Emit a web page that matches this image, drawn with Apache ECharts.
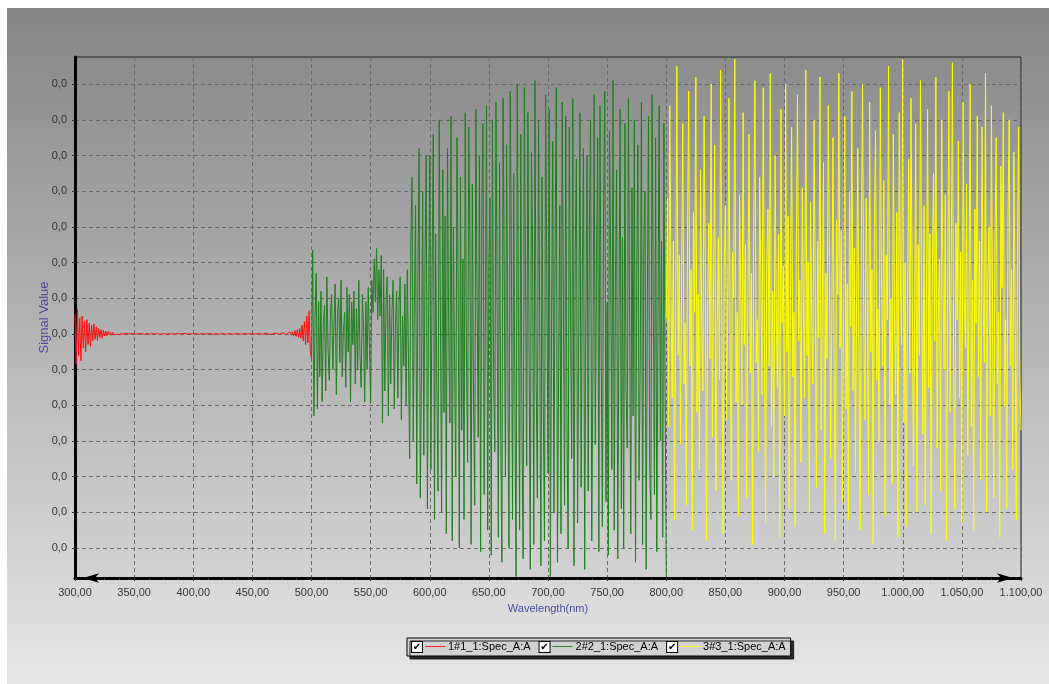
<!DOCTYPE html>
<html><head><meta charset="utf-8">
<script src="https://cdn.jsdelivr.net/npm/echarts@6/dist/echarts.min.js"></script>
<style>html,body{margin:0;padding:0;background:#fff;width:1049px;height:684px;overflow:hidden}
#chart{position:absolute;left:7px;top:8px;width:1042px;height:676px}</style>
</head><body><div id="chart"></div>
<script>
// ---- data (signal in thousandths of the displayed unit) ----
const redStart = 300, redStep = 1;
const greenStart = 500, greenStep = 1;
const yellowStart = 800, yellowStep = 1;
const seriesNames = ['1#1_1:Spec_A:A', '2#2_1:Spec_A:A', '3#3_1:Spec_A:A'];
const seriesColors = ['#ff1010', '#1f7f1f', '#ffff00'];
const yGridValues = [-6, -5, -4, -3, -2, -1, 0, 1, 2, 3, 4, 5, 6, 7];
const SCALE = 0.001;

const redValues = [
 0.55,-0.85,0.7,-0.6,0.45,-0.75,0.5,-0.4,0.35,-0.5,
 0.4,-0.3,0.3,-0.35,0.25,-0.2,0.28,-0.15,0.2,-0.18,
 0.15,-0.1,0.12,-0.12,0.1,-0.06,0.08,-0.05,0.07,-0.03,
 0.05,-0.04,0.04,-0.02,0.03,-0.01,0.02,-0.02,0.01,0,
 0.01,0,-0.01,0.01,0,0,-0.01,0.01,0.01,0,
 -0.01,0,0.01,0,-0.01,0.01,0,0,0.01,-0.01,
 0,0.01,0,-0.01,0,0.01,0,0,-0.01,0.01,
 0,0,0.01,-0.01,0,0.01,0,-0.01,0,0.01,
 0.01,0,-0.01,0,0.01,0,0,0.01,-0.01,0,
 0,0.01,-0.01,0.01,0,0,-0.01,0,0.01,0,
 -0.01,0.01,0,0,0.01,-0.01,0,0.01,0,0,
 0.01,0,-0.01,0.01,0,0,0.01,-0.01,0,0.01,
 0,-0.01,0.01,0,0,0.01,0,-0.01,0.01,0,
 0,0.01,0,-0.01,0.01,0,0,0.01,-0.01,0,
 0.01,-0.01,0,0.01,0,0,-0.01,0.01,0,0,
 0.01,0,-0.01,0,0.01,0.01,-0.01,0,0.01,-0.01,
 0,0.02,-0.01,0.01,0,-0.02,0.02,0,-0.01,0.02,
 -0.02,0.01,0.02,-0.01,0,0.03,-0.02,0.01,0.02,-0.03,
 0.03,-0.02,0.05,-0.04,0.06,-0.05,0.09,-0.07,0.12,-0.1,
 0.15,-0.12,0.25,-0.2,0.35,-0.3,0.5,-0.25,0.65,-0.5,
 -0.7
];
const greenValues = [
 -0.7,2.35,-2.3,0.4,1.7,-2.1,0.9,-1.2,1.2,-1.9,0.3,0.8,-1.6,1.6,-0.4,-1.3,0.5,1.1,-1.0,0.2,
 1.4,-1.7,0.6,1.0,-0.8,1.5,-1.2,0.1,0.6,-1.5,1.3,-0.5,1.1,-1.9,0.9,-0.3,1.2,-1.4,0.7,-1.0,
 1.5,-0.6,-1.5,1.1,0.2,-1.9,0.9,-1.0,1.3,-0.4,-1.9,1.5,0.6,2.1,0.9,2.4,0.4,1.8,0.5,2.2,
 -2.5,1.8,-1.6,0.9,1.6,-2.3,1.1,-1.4,0.6,1.5,-2.1,0.3,1.2,-1.8,0.8,1.6,-2.4,0.5,-0.9,1.4,
 -2.0,1.8,-0.6,-3.5,2.5,4.4,-3.0,0.8,3.6,-4.2,1.5,5.2,-4.6,-1.2,4.0,-3.4,2.1,5.0,-4.9,0.6,
 5.0,-3.8,1.9,5.6,-5.2,2.8,-1.5,-4.4,6.0,0.7,-5.0,4.6,-2.2,3.3,-5.6,5.2,0.2,-2.5,6.1,-5.8,
 3.0,-0.8,-4.0,5.5,1.4,-6.0,4.4,-2.7,2.1,-5.2,6.2,-0.5,-3.6,5.8,2.4,-5.9,4.2,-1.8,-4.8,6.3,
 1.0,-2.9,5.0,-6.1,3.2,5.9,-4.5,0.3,6.4,-5.5,2.0,3.8,-6.2,6.0,-1.1,-3.3,6.5,0.9,-5.7,4.8,
 -2.6,-6.4,6.6,1.8,-4.0,5.3,-0.7,-6.0,6.8,2.5,-5.2,4.5,-1.9,-6.8,7.0,0.6,-5.5,5.6,-2.8,-6.3,
 6.9,1.2,-3.7,6.2,-0.4,-6.6,5.1,2.2,-5.9,7.1,-1.3,-4.6,6.0,0.5,-6.5,4.4,-2.0,-5.8,6.7,1.6,
 -3.9,6.3,-6.8,0.4,5.4,-5.0,2.6,6.9,-6.4,-0.9,3.6,-5.6,6.5,1.1,-4.8,6.1,-2.4,-6.0,5.8,0.8,
 -3.5,6.6,-6.5,2.3,4.9,-5.3,-0.2,6.2,-4.3,1.7,5.2,-6.6,0.3,5.0,-4.4,2.9,6.0,-5.8,-1.0,6.7,
 -3.1,1.9,5.5,-6.1,6.4,-0.6,-5.4,3.4,6.8,-4.7,0.9,-6.2,5.7,2.1,-3.8,7.1,-5.5,1.3,4.6,-6.3,
 0.2,6.3,-4.9,2.7,-6.0,5.9,-1.6,-3.2,6.6,0.7,-5.6,4.1,-2.3,6.0,-6.4,1.5,5.3,-4.1,-0.8,6.5,
 -5.9,2.4,4.0,-6.6,0.9,6.1,-3.6,-5.2,6.7,1.2,-4.5,5.5,-6.1,0.1,6.4,-3.0,2.6,-5.7,5.9,-1.4,
 -6.8
];
const yellowValues = [
 0.4,3.8,-2.6,6.4,1.2,-1.8,2.6,-5.2,0.8,7.5,-0.6,2.2,-3.1,1.6,5.9,-1.4,0.3,-4.8,2.9,6.8,
 -0.9,1.8,-5.5,3.4,0.6,7.2,-2.2,1.1,-3.8,4.6,0.1,-1.6,6.1,2.0,-5.8,0.9,3.1,-0.7,7.0,-2.9,
 1.4,5.3,-4.4,0.2,2.7,-1.3,7.4,0.5,-5.6,1.9,3.6,-2.4,0.7,6.6,-0.4,-4.1,2.3,1.0,7.7,-1.9,
 0.6,-5.1,3.9,1.3,-2.0,6.2,-0.3,2.5,-4.6,0.9,5.6,-1.1,1.7,-5.9,3.0,7.1,-0.8,0.4,-3.3,4.4,
 1.6,-1.7,6.9,0.0,-5.3,2.1,3.5,-0.9,7.3,-2.6,1.2,-4.0,5.0,0.8,-1.5,2.8,-5.7,6.3,0.3,1.9,
 -2.3,7.0,-0.5,3.3,-4.9,1.0,5.8,-1.2,0.6,-5.4,2.4,6.7,-0.2,1.5,-3.6,4.1,0.9,-1.8,7.4,-0.6,
 2.0,-5.0,3.7,0.4,-1.4,6.0,1.3,-4.3,2.6,-0.1,7.2,-2.7,0.8,4.8,-5.6,1.7,-0.7,6.4,2.2,-3.5,
 0.5,5.5,-1.0,-5.8,3.2,1.1,7.3,-0.4,2.9,-4.7,0.6,6.1,-2.1,1.4,-5.2,4.0,0.2,6.8,-1.6,2.4,
 -3.9,1.0,5.2,-0.8,-5.5,2.7,7.0,0.3,-2.4,3.8,1.2,-4.5,6.5,-0.5,1.8,-5.9,2.9,5.7,-1.3,0.7,
 -3.0,6.9,1.6,-0.9,4.3,-5.1,2.2,0.4,7.5,-2.0,1.0,-4.2,5.6,0.6,-1.7,3.4,-5.7,6.2,1.5,-0.3,
 7.7,-2.5,2.0,-5.4,0.8,4.9,-1.1,6.6,1.3,-3.7,0.2,5.9,-5.0,2.5,-0.6,7.1,1.1,-2.8,3.6,-4.8,
 0.9,6.3,-1.5,2.8,-5.6,1.6,4.5,-0.2,7.2,-3.2,0.5,2.1,-4.4,6.0,1.4,-1.0,3.9,-5.8,0.7,6.8,
 -2.2,1.9,7.6,-0.7,-4.9,3.1,0.4,5.4,-1.8,2.3,-5.3,6.5,1.0,-0.4,4.2,-3.4,0.8,7.0,-2.6,1.5,
 -5.5,3.5,0.3,6.1,-1.2,2.6,-4.1,5.8,0.9,-0.8,7.3,-5.0,1.7,3.0,-2.3,6.4,0.1,-4.6,2.4,5.5,
 -1.4,0.6,-5.7,4.7,1.3,6.2,-2.0,0.4,-4.9,3.3,6.0,-0.9,1.8,-3.8,5.1,0.7,-5.2,2.1,5.8,-1.1,
 -2.7
];

// ---- build ----
const toPairs = (vals, start, step) => vals.map((v, i) => [start + i * step, v]);
const fmtX = v => {
  const parts = v.toFixed(2).split('.');
  return parts[0].replace(/\B(?=(\d{3})+(?!\d))/g, '.') + ',' + parts[1];
};
const fmtY = v => (Math.round(v * SCALE * 10) / 10 + 0).toFixed(1).replace('.', ',');
const font = 'Liberation Sans, Arial, sans-serif';

const chart = echarts.init(document.getElementById('chart'));
const lineKeys = ['lnR', 'lnG', 'lnY'];
const rich = {
  cb: { backgroundColor: '#fff', borderColor: '#000', borderWidth: 1, width: 10, height: 10,
        lineHeight: 11, align: 'center', color: '#000', fontSize: 10, fontWeight: 'bold', fontFamily: 'DejaVu Sans' },
  tx: { color: '#000', fontSize: 11, fontFamily: font }
};
lineKeys.forEach((k, i) => {
  rich[k] = { color: seriesColors[i], fontSize: 11, fontFamily: 'DejaVu Sans Mono' };
});

const mkSeries = (i, vals, start, step) => ({
  name: seriesNames[i], type: 'line', data: toPairs(vals, start, step),
  symbol: 'none', showSymbol: false, animation: false,
  lineStyle: { color: seriesColors[i], width: 1 }, itemStyle: { color: seriesColors[i] }
});

const gridLine = { show: true, lineStyle: { color: '#6a6a6a', width: 1, type: [4, 3] } };

chart.setOption({
  animation: false,
  backgroundColor: new echarts.graphic.LinearGradient(0, 0, 0, 1, [
    { offset: 0, color: '#868686' }, { offset: 1, color: '#e6e6e6' }]),
  grid: {
    left: 68, top: 49, right: 28, bottom: 106, show: true,
    backgroundColor: new echarts.graphic.LinearGradient(0, 0, 0, 1, [
      { offset: 0, color: '#8c8c8c' }, { offset: 1, color: '#d2d2d2' }]),
    borderColor: '#222', borderWidth: 1
  },
  legend: {
    left: 400, top: 630, orient: 'horizontal',
    data: seriesNames,
    icon: 'rect', itemWidth: 0, itemHeight: 0, itemGap: 4,
    backgroundColor: '#d2d2d2', borderColor: '#000', borderWidth: 1,
    padding: [3, 5, 3, 0],
    shadowColor: 'rgba(0,0,0,0.8)', shadowOffsetX: 3, shadowOffsetY: 3, shadowBlur: 0,
    selectedMode: false,
    formatter: name => {
      const i = seriesNames.indexOf(name);
      return '{cb|✔} {' + lineKeys[i] + '|───}{tx| ' + name + '}';
    },
    textStyle: { rich: rich, fontSize: 11, color: '#000' }
  },
  xAxis: {
    type: 'value', min: 300, max: 1100, interval: 50,
    axisLine: { show: true, onZero: false, lineStyle: { color: '#000', width: 3 },
      symbol: ['arrow', 'arrow'], symbolSize: [7, 16], symbolOffset: [8, -8] },
    axisTick: { show: true, length: 3, lineStyle: { color: '#333' } },
    minorTick: { show: true, splitNumber: 4, length: 2, lineStyle: { color: '#333' } },
    axisLabel: { formatter: fmtX, color: '#333', fontSize: 11, fontFamily: font, margin: 9 },
    splitLine: gridLine,
    name: 'Wavelength(nm)', nameLocation: 'middle', nameGap: 25,
    nameTextStyle: { color: '#4a4a9c', fontSize: 11, fontFamily: font }
  },
  yAxis: {
    type: 'value', min: -6.84, max: 7.76,
    axisLine: { show: true, onZero: false, lineStyle: { color: '#000', width: 3 } },
    axisTick: { show: true, length: 3, customValues: yGridValues, lineStyle: { color: '#333' } },
    axisLabel: { customValues: yGridValues, formatter: fmtY, color: '#333', fontSize: 11, fontFamily: font, margin: 8 },
    splitLine: gridLine,
    name: 'Signal Value', nameLocation: 'middle', nameGap: 24, nameMoveOverlap: false,
    nameTextStyle: { color: '#4a4a9c', fontSize: 13, fontFamily: font }
  },
  series: [
    mkSeries(0, redValues, redStart, redStep),
    mkSeries(1, greenValues, greenStart, greenStep),
    mkSeries(2, yellowValues, yellowStart, yellowStep)
  ]
});
</script></body></html>
